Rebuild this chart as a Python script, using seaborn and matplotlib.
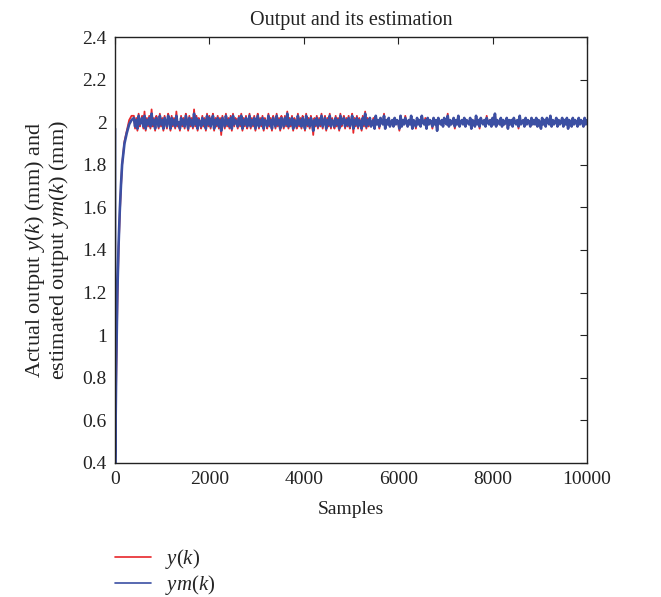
import numpy as np
import pandas as pd
import matplotlib
matplotlib.use("Agg")
import matplotlib.pyplot as plt
import seaborn as sns
from matplotlib.lines import Line2D

# ---------------- data ----------------
rise_samples = [0, 1, 25, 50, 75, 100, 125, 150, 200, 250, 300, 350]
rise_y = [1.97, 0.35, 0.80, 1.15, 1.40, 1.56, 1.69, 1.80, 1.91, 1.96, 2.01, 2.03]
rise_ym = [1.97, 0.35, 0.85, 1.20, 1.42, 1.58, 1.70, 1.80, 1.90, 1.95, 1.99, 2.01]

steady_samples = list(range(400, 10001, 25))

steady_ym = [
    2.02, 1.98, 2.01, 1.97, 2.03, 1.99, 2.00, 2.02, 1.98, 2.03, 1.97, 2.01, 1.99, 2.02, 1.98, 2.04, 1.99, 2.01, 1.97, 2.02,
    2.00, 1.98, 2.03, 1.99, 2.01, 1.97, 2.02, 2.00, 1.98, 2.03, 2.01, 1.97, 2.02, 1.99, 2.01, 1.98, 2.03, 1.99, 2.00, 1.97,
    2.02, 1.99, 2.01, 1.98, 2.03, 2.00, 1.97, 2.02, 1.99, 2.01, 1.98, 2.04, 1.99, 2.02, 1.97, 2.01, 2.00, 1.98, 2.02, 1.99,
    2.01, 1.97, 2.03, 1.99, 2.02, 1.98, 2.00, 2.03, 1.97, 2.01, 1.99, 2.02, 1.98, 2.01, 1.96, 2.02, 2.00, 1.98, 2.03, 1.99,
    2.01, 1.98, 2.02, 1.97, 2.03, 1.99, 2.01, 2.00, 1.98, 2.02, 1.99, 2.03, 1.97, 2.01, 1.99, 2.02, 1.98, 2.00, 2.03, 1.98,
    2.01, 1.99, 2.02, 1.97, 2.00, 2.03, 1.98, 2.01, 1.99, 2.02, 1.97, 2.01, 2.00, 1.98, 2.03, 1.99, 2.01, 1.97, 2.02, 2.00,
    1.98, 2.03, 1.99, 2.01, 1.97, 2.02, 2.00, 1.98, 2.02, 1.99, 2.04, 1.98, 2.01, 1.99, 2.02, 1.97, 2.01, 2.00, 1.98, 2.03,
    1.99, 2.01, 1.98, 2.02, 2.00, 1.97, 2.03, 1.99, 2.01, 1.98, 2.02, 2.00, 1.96, 2.01, 1.99, 2.02, 1.98, 2.01, 1.99, 2.03,
    1.98, 2.00, 2.02, 1.97, 2.01, 1.99, 2.03, 1.98, 2.01, 2.00, 1.98, 2.02, 1.99, 2.01, 1.97, 2.03, 1.99, 2.00, 2.02, 1.98,
    2.01, 1.99, 2.02, 1.98, 2.00, 2.03, 1.97, 2.01, 1.99, 2.02, 1.98, 2.01, 2.00, 1.97, 2.02, 1.99, 2.04, 1.98, 2.01, 1.99,
    2.02, 1.98, 2.00, 2.01, 1.97, 2.03, 1.99, 2.01, 1.98, 2.02, 2.00, 1.99, 2.03, 1.97, 2.01, 1.99, 2.02, 1.98, 2.00, 2.01,
    1.98, 2.02, 1.99, 2.01, 2.00, 1.97, 2.03, 1.98, 2.01, 1.99, 2.02, 2.00, 1.98, 2.01, 1.99, 2.03, 1.97, 2.01, 2.00, 1.98,
    2.02, 1.99, 2.01, 1.98, 2.03, 2.00, 1.99, 2.01, 1.97, 2.02, 1.99, 2.01, 2.00, 1.98, 2.02, 1.99, 2.01, 1.96, 2.02, 2.00,
    1.99, 2.01, 1.98, 2.02, 2.00, 1.99, 2.03, 1.98, 2.01, 1.99, 2.00, 2.02, 1.98, 2.01, 1.99, 2.03, 1.98, 2.00, 2.01, 1.99,
    2.02, 1.98, 2.01, 2.00, 1.99, 2.02, 1.97, 2.01, 2.00, 1.98, 2.03, 1.99, 2.01, 1.98, 2.02, 2.00, 1.99, 2.01, 1.98, 2.02,
    2.00, 1.99, 2.01, 1.98, 2.02, 1.99, 2.04, 1.98, 2.01, 2.00, 1.99, 2.02, 1.98, 2.01, 1.99, 2.00, 2.02, 1.97, 2.01, 1.99,
    2.01, 1.98, 2.02, 2.00, 1.99, 2.01, 1.98, 2.03, 1.99, 2.00, 2.01, 1.98, 2.02, 1.99, 2.01, 2.00, 1.98, 2.02, 1.99, 2.01,
    1.99, 2.02, 1.98, 2.01, 2.00, 1.97, 2.02, 1.99, 2.01, 1.98, 2.02, 2.00, 1.99, 2.03, 1.98, 2.01, 1.99, 2.00, 2.02, 1.98,
    2.01, 1.99, 2.00, 2.02, 1.98, 2.01, 1.99, 2.02, 1.97, 2.01, 2.00, 1.98, 2.02, 1.99, 2.01, 2.00, 1.98, 2.02, 1.99, 2.01,
    2.00, 1.98, 2.02, 1.99, 2.01,
]

steady_y = [
    2.03, 1.97, 2.02, 1.96, 2.04, 1.98, 2.01, 2.03, 1.97, 2.05, 1.96, 2.02, 1.98, 2.03, 1.97, 2.06, 1.98, 2.02, 1.96, 2.03,
    2.01, 1.97, 2.04, 1.98, 2.02, 1.96, 2.03, 2.00, 1.97, 2.04, 2.02, 1.96, 2.03, 1.98, 2.02, 1.97, 2.05, 1.98, 2.00, 1.96,
    2.03, 1.98, 2.02, 1.97, 2.04, 2.01, 1.96, 2.03, 1.98, 2.02, 1.97, 2.06, 1.98, 2.03, 1.96, 2.02, 2.00, 1.97, 2.03, 1.98,
    2.02, 1.96, 2.04, 1.98, 2.03, 1.97, 2.01, 2.04, 1.96, 2.02, 1.98, 2.03, 1.97, 2.02, 1.94, 2.03, 2.00, 1.97, 2.04, 1.98,
    2.02, 1.97, 2.03, 1.96, 2.04, 1.98, 2.02, 2.01, 1.97, 2.03, 1.98, 2.04, 1.96, 2.02, 1.98, 2.03, 1.97, 2.00, 2.04, 1.97,
    2.02, 1.98, 2.03, 1.96, 2.01, 2.04, 1.97, 2.02, 1.98, 2.03, 1.96, 2.02, 2.00, 1.97, 2.04, 1.98, 2.02, 1.96, 2.03, 2.01,
    1.97, 2.04, 1.98, 2.02, 1.96, 2.03, 2.01, 1.97, 2.03, 1.98, 2.05, 1.97, 2.02, 1.98, 2.03, 1.96, 2.02, 2.00, 1.97, 2.04,
    1.98, 2.02, 1.97, 2.03, 2.01, 1.96, 2.04, 1.98, 2.02, 1.97, 2.03, 2.00, 1.94, 2.02, 1.98, 2.03, 1.97, 2.02, 1.98, 2.04,
    1.97, 2.01, 2.03, 1.96, 2.02, 1.98, 2.04, 1.97, 2.02, 2.00, 1.97, 2.03, 1.98, 2.02, 1.96, 2.04, 1.98, 2.01, 2.03, 1.97,
    2.02, 1.98, 2.03, 1.97, 2.00, 2.04, 1.95, 2.02, 1.98, 2.03, 1.97, 2.02, 2.00, 1.96, 2.03, 1.98, 2.05, 1.97, 2.02, 1.98,
    2.02, 1.98, 2.00, 2.02, 1.97, 2.03, 1.99, 2.01, 1.97, 2.02, 2.00, 1.99, 2.04, 1.97, 2.01, 1.99, 2.02, 1.98, 2.00, 2.01,
    1.98, 2.02, 1.99, 2.01, 2.00, 1.96, 2.03, 1.98, 2.01, 1.99, 2.03, 2.00, 1.98, 2.01, 1.99, 2.03, 1.97, 2.01, 2.00, 1.97,
    2.02, 1.99, 2.01, 1.98, 2.03, 2.00, 1.99, 2.02, 1.97, 2.02, 1.99, 2.01, 2.00, 1.97, 2.02, 1.99, 2.01, 1.96, 2.02, 2.00,
    1.99, 2.01, 1.98, 2.02, 2.00, 1.99, 2.04, 1.98, 2.01, 1.99, 2.00, 2.02, 1.97, 2.01, 1.99, 2.03, 1.98, 2.00, 2.01, 1.99,
    2.02, 1.98, 2.01, 2.00, 1.99, 2.02, 1.97, 2.01, 2.00, 1.98, 2.03, 1.99, 2.01, 1.97, 2.02, 2.00, 1.99, 2.01, 1.98, 2.03,
    2.00, 1.99, 2.01, 1.98, 2.02, 1.99, 2.04, 1.98, 2.01, 2.00, 1.99, 2.02, 1.98, 2.01, 1.99, 2.00, 2.02, 1.97, 2.01, 1.99,
    2.01, 1.98, 2.02, 2.00, 1.99, 2.01, 1.97, 2.03, 1.99, 2.00, 2.01, 1.98, 2.02, 1.99, 2.01, 2.00, 1.98, 2.02, 1.99, 2.01,
    1.99, 2.02, 1.98, 2.01, 2.00, 1.97, 2.02, 1.99, 2.01, 1.98, 2.02, 2.00, 1.99, 2.03, 1.98, 2.01, 1.99, 2.00, 2.02, 1.98,
    2.01, 1.99, 2.00, 2.02, 1.98, 2.01, 1.99, 2.02, 1.97, 2.01, 2.00, 1.98, 2.02, 1.99, 2.01, 2.00, 1.98, 2.02, 1.99, 2.01,
    2.00, 1.98, 2.02, 1.99, 2.01,
]

x_ticks = [0, 2000, 4000, 6000, 8000, 10000]
x_tick_labels = ["0", "2000", "4000", "6000", "8000", "10000"]
y_ticks = [0.4, 0.6, 0.8, 1.0, 1.2, 1.4, 1.6, 1.8, 2.0, 2.2, 2.4]
y_tick_labels = ["0.4", "0.6", "0.8", "1", "1.2", "1.4", "1.6", "1.8", "2", "2.2", "2.4"]

series_names = ["$y(k)$", "$ym(k)$"]
series_colors = ["#e8262a", "#3b4fa3"]

# ---------------- build table ----------------
n = min(len(steady_samples), len(steady_y), len(steady_ym))
samples = rise_samples + steady_samples[:n]
df_y = pd.DataFrame({"Samples": samples, "value": rise_y + steady_y[:n]})
df_ym = pd.DataFrame({"Samples": samples, "value": rise_ym + steady_ym[:n]})

# ---------------- style ----------------
sns.set_style("white")
plt.rcParams.update({
    "font.family": ["Liberation Serif", "DejaVu Serif"],
    "mathtext.fontset": "custom",
    "mathtext.rm": "Liberation Serif",
    "mathtext.it": "Liberation Serif:italic",
    "mathtext.bf": "Liberation Serif:bold",
    "axes.edgecolor": "#222222",
    "axes.linewidth": 1.0,
})

fig = plt.figure(figsize=(6.61, 5.97), dpi=100)
ax = fig.add_axes([0.174, 0.2245, 0.714, 0.7135])

sns.lineplot(data=df_y, x="Samples", y="value", ax=ax, color=series_colors[0],
             linewidth=1.3, estimator=None, sort=False)
sns.lineplot(data=df_ym, x="Samples", y="value", ax=ax, color=series_colors[1],
             linewidth=1.9, estimator=None, sort=False)

ax.set_xlim(0, 10000)
ax.set_ylim(0.4, 2.4)
ax.set_xticks(x_ticks)
ax.set_xticklabels(x_tick_labels)
ax.set_yticks(y_ticks)
ax.set_yticklabels(y_tick_labels)
ax.tick_params(axis="both", direction="in", length=5, width=0.8, labelsize=14,
               top=True, right=True, colors="#222222", labelcolor="#222222", pad=6)
for s in ax.spines.values():
    s.set_visible(True)
    s.set_color("#222222")

ax.set_title("Output and its estimation", fontsize=14.5, color="#222222", pad=9)
ax.set_xlabel("Samples", fontsize=14, color="#222222", labelpad=9)
ax.set_ylabel("Actual output $y(k)$ (mm) and\nestimated output $ym(k)$ (mm)",
              fontsize=16, color="#222222", labelpad=8, linespacing=1.0)

handles = [Line2D([0], [0], color=c, lw=1.2) for c in series_colors]
fig.legend(handles, series_names, loc="upper left", bbox_to_anchor=(0.162, 0.098),
           frameon=False, fontsize=15, handlelength=1.7, handletextpad=0.7,
           labelspacing=0.12, borderaxespad=0.0)

fig.savefig("out.png", dpi=100)
